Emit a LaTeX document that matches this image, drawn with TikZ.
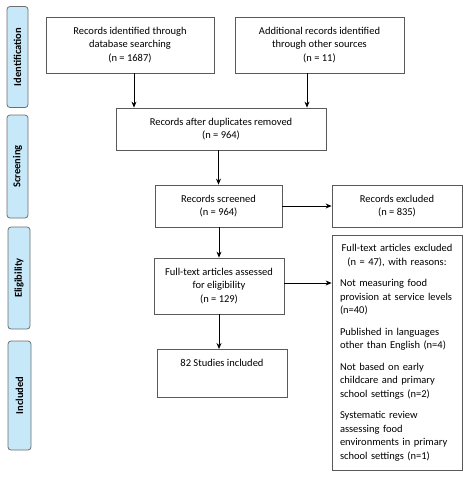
\documentclass[tikz,border=0pt]{standalone}
\usepackage{fontspec}
\setmainfont{Carlito}
\usepackage{xcolor}
\definecolor{stagefill}{HTML}{C6E8F8}
\definecolor{stageline}{HTML}{6E6E6E}
\definecolor{boxline}{HTML}{5A5A5A}
\usetikzlibrary{arrows.meta}
\tikzset{
    stage/.style = {rectangle, rounded corners=3pt, draw=stageline, fill=stagefill,
                    line width=0.8pt, rotate=90, inner sep=0pt,
                    font=\fontsize{10.5}{12}\selectfont\bfseries},
    box/.style = {rectangle, draw=boxline, line width=0.8pt, align=center,
                  inner sep=0pt, font=\fontsize{10.5}{13.5}\selectfont},
    arrow/.style = {-{Stealth[length=6pt, width=5pt]}, line width=0.8pt, color=black},
}

\begin{document}
\begin{tikzpicture}[x=1pt, y=-1pt]
        \useasboundingbox (0,0) rectangle (467,477);
        % stage labels
        \node[stage, minimum width=101pt, minimum height=21pt] (stIdent) at (17.5,57) {Identification};
        \node[stage, minimum width=103pt, minimum height=21pt] (stScreen) at (17.5,166.5) {Screening};
        \node[stage, minimum width=102pt, minimum height=22pt] (stElig) at (19,278) {Eligibility};
        \node[stage, minimum width=109pt, minimum height=23pt] (stIncl) at (19.5,395.5) {Included};
        % identification
        \node[box, minimum width=168pt, minimum height=56pt] (dbsearch) at (130,45) {Records identified through\\database searching\\(n = 1687)};
        \node[box, minimum width=169pt, minimum height=56pt] (other) at (319.5,45) {Additional records identified\\through other sources\\(n = 11)};
        % screening
        \node[box, minimum width=210pt, minimum height=42pt] (dedup) at (221,129) {Records after duplicates removed\\(n = 964)};
        \node[box, minimum width=127pt, minimum height=42pt] (screened) at (218.5,206) {Records screened\\(n = 964)};
        \node[box, minimum width=130pt, minimum height=42pt] (excluded) at (397,206) {Records excluded\\(n = 835)};
        % eligibility
        \node[box, minimum width=130pt, minimum height=56pt] (fulltext) at (219,286) {Full-text articles assessed\\for eligibility\\(n = 129)};
        \node[box, anchor=north, minimum height=235pt, text width=114pt, inner xsep=8pt, inner ysep=5pt] (ftexcl) at (397,235) {%
          {\centering Full-text articles excluded\\(n = 47), with reasons:\par}\vspace{8pt}
          \raggedright
          Not measuring food\\provision at service levels\\(n=40)\par\vspace{8pt}
          Published in languages\\other than English (n=4)\par\vspace{8pt}
          Not based on early\\childcare and primary\\school settings (n=2)\par\vspace{8pt}
          Systematic review\\assessing food\\environments in primary\\school settings (n=1)\par};
        % included
        \node[box, minimum width=130pt, text height=17pt, text depth=31pt] (studies) at (222,349) [anchor=north] {82 Studies included};
        % arrows
        \draw[arrow] ([xshift=4pt]dbsearch.south) -- ([xshift=4pt]dbsearch.south |- dedup.north);
        \draw[arrow] ([xshift=-12.5pt]other.south) -- ([xshift=-12.5pt]other.south |- dedup.north);
        \draw[arrow] (screened.north |- dedup.south) -- (screened.north);
        \draw[arrow] (screened.east) -- (excluded.west);
        \draw[arrow] (fulltext.north |- screened.south) -- (fulltext.north);
        \draw[arrow] ([yshift=3pt]fulltext.east) -- ([yshift=3pt]fulltext.east -| ftexcl.west);
        \draw[arrow] (fulltext.south) -- (fulltext.south |- studies.north);
\end{tikzpicture}
\end{document}
